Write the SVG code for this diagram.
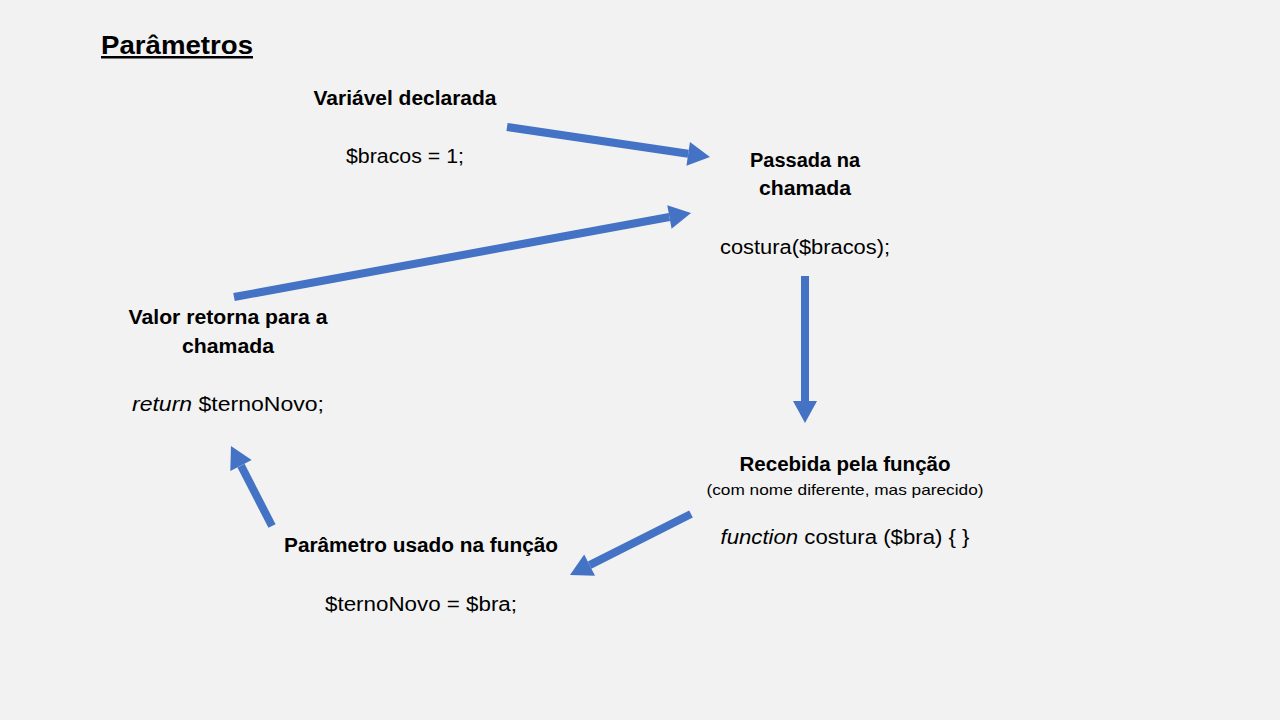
<svg xmlns="http://www.w3.org/2000/svg" width="1280" height="720" viewBox="0 0 1280 720">
<style>
.b{font-family:"Liberation Sans",Arial,sans-serif;font-weight:bold;font-size:20px;fill:#000;text-anchor:middle}
.r{font-family:"Liberation Sans",Arial,sans-serif;font-size:20px;fill:#000;text-anchor:middle}
.s{font-family:"Liberation Sans",Arial,sans-serif;font-size:15px;fill:#000;text-anchor:middle}
.a{stroke:#4472C4;stroke-width:8;fill:none}
</style>
<defs>
<marker id="h" markerUnits="userSpaceOnUse" markerWidth="22" markerHeight="24" viewBox="0 0 22 24" refX="0" refY="12" orient="auto" overflow="visible">
<path d="M0,0 L22,12 L0,24 Z" fill="#4472C4"/>
</marker>
</defs>
<rect width="1280" height="720" fill="#F2F2F2"/>
<g id="title">
<text x="101" y="54" font-family="'Liberation Sans',Arial,sans-serif" font-weight="bold" font-size="25" text-decoration="underline" textLength="152" lengthAdjust="spacingAndGlyphs">Parâmetros</text>
</g>
<g id="declarada">
<text class="b" x="405" y="105" textLength="183" lengthAdjust="spacingAndGlyphs">Variável declarada</text>
<text class="r" x="405" y="163" textLength="118" lengthAdjust="spacingAndGlyphs">$bracos = 1;</text>
</g>
<g id="passada">
<text class="b" x="805" y="167" textLength="110" lengthAdjust="spacingAndGlyphs">Passada na</text>
<text class="b" x="805" y="195" textLength="92" lengthAdjust="spacingAndGlyphs">chamada</text>
<text class="r" x="805" y="254" textLength="170" lengthAdjust="spacingAndGlyphs">costura($bracos);</text>
</g>
<g id="recebida">
<text class="b" x="845" y="471" textLength="211" lengthAdjust="spacingAndGlyphs">Recebida pela função</text>
<text class="s" x="845" y="495" textLength="277" lengthAdjust="spacingAndGlyphs">(com nome diferente, mas parecido)</text>
<text class="r" x="845" y="544" textLength="249" lengthAdjust="spacingAndGlyphs"><tspan font-style="italic">function</tspan> costura ($bra) { }</text>
</g>
<g id="usado">
<text class="b" x="421" y="552" textLength="274" lengthAdjust="spacingAndGlyphs">Parâmetro usado na função</text>
<text class="r" x="421" y="611" textLength="192" lengthAdjust="spacingAndGlyphs">$ternoNovo = $bra;</text>
</g>
<g id="retorna">
<text class="b" x="228" y="324" textLength="199" lengthAdjust="spacingAndGlyphs">Valor retorna para a</text>
<text class="b" x="228" y="353" textLength="92" lengthAdjust="spacingAndGlyphs">chamada</text>
<text class="r" x="228" y="411" textLength="192" lengthAdjust="spacingAndGlyphs"><tspan font-style="italic">return</tspan> $ternoNovo;</text>
</g>
<g id="connectors">
<line class="a" x1="507" y1="127" x2="688.2" y2="153.8" marker-end="url(#h)"/>
<line class="a" x1="234" y1="297" x2="669.4" y2="217" marker-end="url(#h)"/>
<line class="a" x1="805" y1="276" x2="805" y2="401" marker-end="url(#h)"/>
<line class="a" x1="691" y1="514" x2="589.6" y2="565.1" marker-end="url(#h)"/>
<line class="a" x1="272" y1="526" x2="241" y2="465.6" marker-end="url(#h)"/>
</g>
</svg>
